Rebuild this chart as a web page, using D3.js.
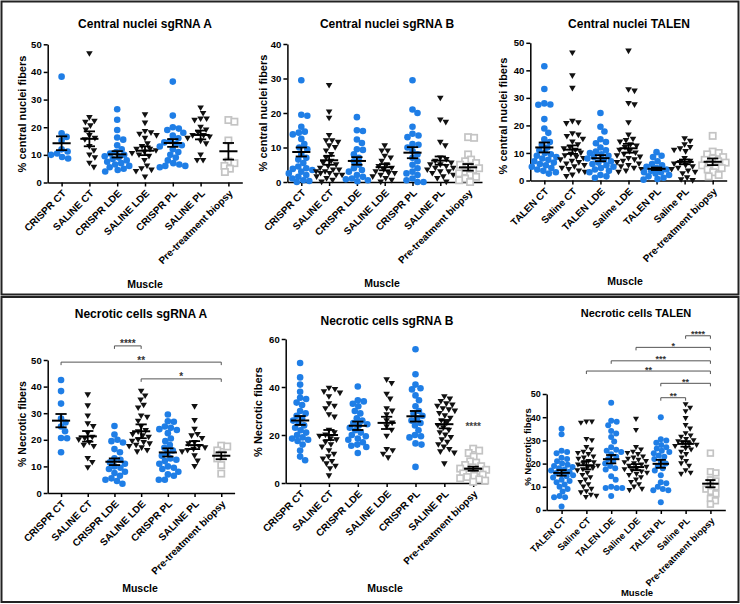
<!DOCTYPE html>
<html><head><meta charset="utf-8">
<script src="https://cdn.jsdelivr.net/npm/d3@7"></script>
<style>body{margin:0;background:#fff} svg text{font-family:Arial,"Liberation Sans",Helvetica,sans-serif;font-weight:bold}</style>
</head><body><svg id="c" width="740" height="604"></svg>
<script>
// ---------------- DATA ----------------
const catsCRISPR = ["CRISPR CT","SALINE CT","CRISPR LDE","SALINE LDE","CRISPR PL","SALINE PL","Pre-treatment biopsy"];
const catsTALEN = ["TALEN CT","Saline CT","TALEN LDE","Saline LDE","TALEN PL","Saline PL","Pre-treatment biopsy"];
const markerKinds = ["dot","tri","dot","tri","dot","tri","square"];

const ticks50 = [0,10,20,30,40,50];
const ticks40 = [0,10,20,30,40];
const ticks60 = [0,20,40,60];

// Central nuclei sgRNA A
const cnA = [
  [38.3,17.8,16.5,15.2,12.0,11.2,10.5,10.0,9.2,8.7],
  [46.6,23.5,22.2,21.8,20.5,19.0,17.0,16.0,15.5,13.0,11.5,10.0,9.0,7.0,5.5],
  [26.5,22.7,19.0,16.3,15.5,13.5,12.0,11.0,10.5,10.0,9.5,9.0,8.5,8.0,7.5,7.0,6.5,6.0,5.5,5.0,4.5,4.0],
  [24.5,21.5,18.5,18.0,17.5,17.0,16.0,14.0,13.0,12.0,12.0,11.5,11.0,10.5,10.0,9.5,8.0,6.0,5.0,4.5,4.0,2.0],
  [36.5,24.2,20.0,19.5,19.0,18.0,17.0,16.0,15.0,14.5,14.0,13.5,13.0,12.0,11.0,10.0,9.0,8.0,7.0,6.5,6.0,6.0,5.5],
  [27.0,25.0,23.0,23.0,22.5,20.0,19.0,18.0,17.0,17.0,16.5,16.0,15.0,14.0,10.0,8.0,8.0],
  [22.6,22.0,15.2,7.6,7.0,6.0,5.0,3.8]
];
const cnAMean = [14.2,15.8,10.2,11.5,14.3,17.2,11.3];
const cnASem  = [2.5,2.7,1.15,1.6,1.4,1.6,3.0];

// Central nuclei sgRNA B
const cnB = [
  [29.5,19.5,19.2,16.0,14.6,14.3,13.8,12.5,11.0,10.0,9.5,8.0,7.0,6.5,5.5,4.5,4.0,3.8,3.5,3.0,2.5,2.0,1.5,1.0,0.5,0.3,0.0],
  [28.0,20.3,18.5,13.5,12.0,12.0,11.5,10.5,10.0,9.0,8.0,7.0,6.0,5.5,5.0,4.5,4.0,3.5,3.5,3.0,3.0,2.5,2.5,2.0,2.0,1.5,1.0,0.5,0.0],
  [18.8,15.0,14.8,12.3,11.3,9.5,9.3,8.0,7.0,6.0,5.0,4.0,3.5,3.0,2.0,1.5,1.0,0.8,0.5,0.2],
  [10.5,9.0,9.0,7.5,7.0,6.0,5.0,4.5,4.0,3.5,3.0,2.5,2.5,2.0,1.5,1.0,0.5,0.0],
  [29.5,21.0,20.0,16.0,14.0,13.5,13.0,11.0,10.8,10.0,9.0,8.0,7.0,6.0,5.0,4.0,3.0,2.5,2.0,1.0,0.5,0.0,0.0],
  [24.3,18.0,17.3,11.5,10.5,7.0,6.5,6.0,5.5,5.0,5.0,4.5,4.0,4.0,3.5,3.0,3.0,2.5,2.0,1.5,1.0,0.0],
  [13.0,12.8,8.0,6.5,6.0,5.5,5.0,4.5,4.0,3.5,3.0,2.5,2.0,1.5,1.0,0.5,0.0]
];
const cnBMean = [8.7,6.3,6.1,4.3,8.5,6.2,4.25];
const cnBSem  = [1.3,1.3,1.1,0.9,1.6,1.2,0.95];

// Central nuclei TALEN
const cnT = [
  [41.5,33.2,28.0,27.6,27.5,22.3,18.9,17.3,15.0,14.0,13.0,12.0,11.0,10.0,9.5,9.0,8.5,8.0,7.5,7.0,6.5,6.0,5.5,5.0,4.5,4.0,3.5,3.0,2.5],
  [46.3,38.0,33.5,21.5,21.0,20.7,17.0,16.5,16.0,15.0,14.0,13.0,12.0,11.5,11.0,10.0,9.5,9.0,8.5,8.0,7.5,7.0,6.5,6.0,5.5,5.0,4.5,4.0,3.5,3.0,2.0,1.5],
  [24.5,19.5,17.8,15.0,14.0,13.5,12.0,11.0,10.5,10.0,9.5,9.0,8.5,8.0,7.5,7.0,6.5,6.0,5.5,5.0,4.5,4.0,3.5,3.0,2.0,1.5,1.0],
  [47.0,33.0,32.5,28.0,27.5,21.0,16.5,15.0,14.5,14.0,13.0,12.5,12.0,11.0,10.5,10.0,9.5,9.0,8.5,8.0,7.5,7.0,6.5,6.0,5.5,5.0,4.5,4.0,3.5,3.0],
  [10.3,9.0,8.5,7.0,6.0,5.5,5.0,4.5,4.0,3.5,3.0,3.0,2.5,2.0,1.5,1.0,0.5,0.3],
  [15.2,14.3,13.0,12.0,11.5,11.0,10.5,8.0,7.0,6.5,6.0,5.5,5.0,4.5,4.0,3.5,3.0,2.5,1.0,0.3,0.0],
  [16.2,10.5,10.0,9.5,8.5,8.0,7.5,7.0,6.5,6.0,5.5,5.0,4.5,4.0,3.0,2.0,1.5]
];
const cnTMean = [12.0,11.2,8.1,11.7,4.25,6.75,6.8];
const cnTSem  = [1.8,1.55,1.1,1.6,0.45,0.85,1.2];

// Necrotic cells sgRNA A
const ncA = [
  [42.5,38.3,33.6,28.0,26.5,25.0,23.2,20.7,20.6,15.3],
  [36.9,32.8,29.0,26.0,25.0,22.5,21.0,20.5,20.0,19.0,18.0,17.5,13.0,11.5,9.5],
  [25.2,22.0,20.0,19.5,19.0,16.5,15.3,13.0,12.5,11.5,11.0,10.0,9.5,9.0,8.0,7.5,6.5,5.5,5.0,4.5,3.5],
  [38.3,36.5,35.0,33.0,32.0,29.0,28.5,27.0,25.0,23.5,23.0,22.0,21.5,21.0,20.0,19.5,19.0,18.5,18.0,17.5,17.0,16.0,15.5],
  [29.5,27.0,26.8,25.0,24.5,24.0,23.7,22.5,20.5,19.5,18.0,17.0,16.0,15.0,14.0,13.0,12.5,12.0,11.0,10.0,9.5,9.0,8.0,7.0,6.5,5.0,5.0],
  [32.5,27.3,24.0,22.0,21.5,20.5,19.0,18.5,17.5,17.0,16.5,16.0,15.5,14.0,12.0,10.0],
  [17.8,17.5,16.0,14.5,13.0,10.5,7.3]
];
const ncAMean = [27.2,21.3,11.75,23.2,15.25,18.0,14.0];
const ncASem  = [2.5,2.0,1.25,2.6,1.55,1.5,1.3];
const ncASig = [
  {from:2, to:3, level:55.3, label:"****"},
  {from:0, to:6, level:49.2, label:"**"},
  {from:3, to:6, level:42.9, label:"*"}
];

// Necrotic cells sgRNA B
const ncB = [
  [50.0,44.0,41.0,38.0,35.5,35.0,33.5,32.5,30.0,29.0,28.0,27.0,26.0,25.0,24.0,23.0,22.0,21.0,20.0,19.0,18.5,18.0,17.5,16.0,13.5,11.0,9.5],
  [39.5,39.0,38.0,37.5,36.0,33.0,32.0,31.0,28.5,27.5,22.0,21.0,20.0,19.5,18.5,18.0,17.0,16.0,15.0,13.5,12.0,11.0,10.0,9.0,8.0,7.0,6.0,3.0],
  [40.2,34.5,34.0,33.0,32.0,30.0,29.0,27.0,26.0,25.0,24.5,24.0,23.0,22.0,21.0,20.0,19.5,18.5,18.0,17.0,16.0,15.5,15.0,12.5],
  [43.0,41.5,37.0,35.0,31.0,30.0,28.5,26.0,25.0,23.5,22.0,19.5,14.0,13.5,12.0,10.5],
  [55.7,45.3,41.0,39.5,39.0,36.5,34.5,32.0,30.0,29.0,28.0,27.0,26.0,25.0,24.0,22.0,20.0,19.5,19.0,16.5,16.0,6.7],
  [36.0,35.0,34.0,33.0,32.5,32.0,31.0,30.5,30.0,29.0,28.0,27.0,26.0,25.0,24.0,23.0,22.0,21.0,20.0,19.0,18.0,17.0,16.0,15.0,14.0,13.0,12.5,8.0],
  [14.3,13.5,12.5,11.0,9.0,8.5,7.5,7.0,6.5,6.0,5.5,5.0,4.5,4.0,3.5,3.0,2.5,2.0,1.5,1.0,0.5]
];
const ncBMean = [26.05,20.0,23.85,25.05,27.8,24.5,5.95];
const ncBSem  = [1.85,2.1,1.75,2.55,2.2,1.75,0.85];
const ncBStar = {group:6, level:24.5, label:"****"};

// Necrotic cells TALEN
const ncT = [
  [35.0,32.6,25.5,25.0,24.5,22.5,22.0,21.0,20.0,19.5,19.0,18.5,18.0,17.5,17.0,16.5,16.0,15.5,15.0,14.5,14.0,13.0,12.5,12.0,11.0,10.0,9.0,8.0,6.0,5.5,5.5,1.5],
  [38.0,38.0,37.5,30.5,30.0,27.0,26.0,25.0,24.5,24.0,23.0,22.5,22.0,21.0,20.5,20.0,19.5,19.0,18.5,18.0,17.5,17.0,16.0,15.0,14.0,13.0,12.0,11.0,10.0,9.0,8.0,7.5,6.5,6.0,5.5],
  [46.2,38.5,38.0,36.5,34.0,33.0,31.5,29.5,27.0,26.0,25.5,25.0,24.0,23.0,22.0,21.0,20.0,19.0,18.0,17.5,14.5,13.0,10.0,9.5,9.5,9.5,6.0],
  [39.2,34.4,27.0,26.0,25.0,24.5,24.0,23.0,22.5,22.0,21.5,21.0,20.5,20.0,19.5,19.0,18.5,18.0,17.5,17.0,16.5,16.0,15.5,15.0,14.0,13.0,12.0,11.0,10.0,9.0,8.5],
  [40.0,30.5,30.0,29.0,28.0,27.0,26.5,25.5,25.0,24.5,23.5,23.0,22.0,21.0,20.0,19.0,18.0,17.0,15.0,12.0,11.5,10.0,9.0,8.5,8.5,3.3],
  [45.5,44.0,42.5,39.5,36.5,35.0,33.0,32.0,31.5,30.5,30.0,29.5,29.0,28.5,28.0,27.5,26.5,26.0,25.0,24.0,22.5,21.0,20.0,19.0,17.0,16.0,15.5],
  [24.5,16.5,16.0,13.0,12.5,10.5,10.0,9.0,8.0,7.0,5.0,4.0,2.5]
];
const ncTMean = [16.0,19.3,21.9,18.5,19.9,28.5,11.35];
const ncTSem  = [1.2,1.8,1.8,1.3,1.7,1.2,1.55];
const ncTSig = [
  {from:5, to:6, level:75.1, label:"****"},
  {from:3, to:6, level:70.1, label:"*"},
  {from:2, to:6, level:64.3, label:"***"},
  {from:1, to:6, level:59.9, label:"**"},
  {from:4, to:6, level:54.6, label:"**"},
  {from:4, to:5, level:48.4, label:"**"}
];

// ---------------- LAYOUT ----------------
const BLUE = "#1f7ee6", GREY = "#c4c4c4";
const svg = d3.select("#c");
svg.append("rect").attr("width",740).attr("height",604).attr("fill","#fff");
svg.append("rect").attr("x",1.5).attr("y",1.5).attr("width",737).attr("height",293).attr("fill","none").attr("stroke","#222").attr("stroke-width",2);
svg.append("rect").attr("x",1.5).attr("y",297).attr("width",737).attr("height",305).attr("fill","none").attr("stroke","#222").attr("stroke-width",2);

const panels = [
  {title:"Central nuclei sgRNA A", cats:catsCRISPR, data:cnA, mean:cnAMean, sem:cnASem, ymax:50, yticks:ticks50,
   x0:47.7, x1:242.3, pad:0.5, yb:182.5, yt:44.3, tx:145, ty:28, ylab:"% central nuclei fibers", ylx:22, yly:114, mx:145, my:288,
   fsT:12, fsY:9.5, fsX:10, fsYL:11, fsM:10.5, r:3.3, spread:13},
  {title:"Central nuclei sgRNA B", cats:catsCRISPR, data:cnB, mean:cnBMean, sem:cnBSem, ymax:40, yticks:ticks40,
   x0:287.4, x1:482, pad:0.5, yb:182, yt:44, tx:387, ty:28, ylab:"% central nuclei fibers", ylx:263, yly:113, mx:382, my:287,
   fsT:12, fsY:9.5, fsX:10, fsYL:11, fsM:10.5, r:3.3, spread:13},
  {title:"Central nuclei TALEN", cats:catsTALEN, data:cnT, mean:cnTMean, sem:cnTSem, ymax:50, yticks:ticks50,
   x0:530.3, x1:726.7, pad:0.5, yb:180.5, yt:42.8, tx:629, ty:28, ylab:"% central nuclei fibers", ylx:503, yly:116, mx:625, my:285,
   fsT:12, fsY:9.5, fsX:10, fsYL:11, fsM:10.5, r:3.3, spread:13},
  {title:"Necrotic cells sgRNA A", cats:catsCRISPR, data:ncA, mean:ncAMean, sem:ncASem, ymax:50, yticks:ticks50,
   x0:47.7, x1:234.6, pad:0.5, yb:493, yt:360, tx:141, ty:318, ylab:"% Necrotic fibers", ylx:22, yly:424, mx:140, my:592,
   fsT:12, fsY:9.5, fsX:10, fsYL:10.5, fsM:10.5, r:3.3, spread:12.5, sig:ncASig, fsS:10},
  {title:"Necrotic cells sgRNA B", cats:catsCRISPR, data:ncB, mean:ncBMean, sem:ncBSem, ymax:60, yticks:ticks60,
   x0:285.7, x1:487.6, pad:0.5, yb:483, yt:339, tx:387, ty:325, ylab:"% Necrotic fibers", ylx:258, yly:412, mx:385, my:592,
   fsT:12, fsY:9.5, fsX:10, fsYL:11, fsM:10.5, r:3.3, spread:13, star:ncBStar, fsS:10},
  {title:"Necrotic cells TALEN", cats:catsTALEN, data:ncT, mean:ncTMean, sem:ncTSem, ymax:50, yticks:ticks50,
   x0:546.7, x1:725.3, pad:0.6, yb:510, yt:394, tx:636, ty:317, ylab:"% Necrotic fibers", ylx:528, yly:447, mx:637, my:596,
   fsT:11, fsY:9, fsX:9.3, fsYL:9.5, fsM:9.5, r:3.0, spread:11.5, sig:ncTSig, fsS:9}
];

function swarm(vals, y, cx, r, maxOff) {
  const pts = vals.map(v => ({v, y: y(v)})).sort((a, b) => a.y - b.y);
  const placed = [];
  const d = 2 * r * 0.9;
  for (const p of pts) {
    let chosen = null;
    const nSteps = Math.ceil(maxOff / 0.5);
    for (let k = 0; k <= 2 * nSteps; k++) {
      const off = (k % 2 === 1 ? 1 : -1) * Math.ceil(k / 2) * 0.5;
      const xx = cx + off;
      if (placed.every(q => (q.x - xx) ** 2 + (q.y - p.y) ** 2 >= d * d)) { chosen = xx; break; }
    }
    if (chosen === null) {
      let best = cx, bestD = -1;
      for (let off = -maxOff; off <= maxOff; off += 0.5) {
        const xx = cx + off;
        const md = Math.min(...placed.map(q => Math.hypot(q.x - xx, q.y - p.y)));
        if (md > bestD) { bestD = md; best = xx; }
      }
      chosen = best;
    }
    p.x = chosen; placed.push(p);
  }
  return placed;
}

function drawPanel(P) {
  const g = svg.append("g");
  const x = d3.scalePoint().domain(P.cats).range([P.x0, P.x1]).padding(P.pad);
  const y = d3.scaleLinear().domain([0, P.ymax]).range([P.yb, P.yt]);

  const ya = g.append("g").attr("transform", `translate(${P.x0},0)`)
    .call(d3.axisLeft(y).tickValues(P.yticks).tickSize(4).tickSizeOuter(0).tickPadding(2));
  ya.select(".domain").attr("stroke", "#000").attr("stroke-width", 1.5);
  ya.selectAll(".tick line").attr("stroke", "#000").attr("stroke-width", 1.5);
  ya.selectAll(".tick text").attr("font-size", P.fsY).attr("fill", "#000")
    .style("font-family", "Arial, 'Liberation Sans', sans-serif").style("font-weight", "bold");

  const xa = g.append("g").attr("transform", `translate(0,${P.yb})`)
    .call(d3.axisBottom(x).tickSize(4).tickSizeOuter(0));
  xa.select(".domain").attr("stroke", "#000").attr("stroke-width", 1.5);
  xa.selectAll(".tick line").attr("stroke", "#000").attr("stroke-width", 1.5);
  xa.selectAll(".tick text").attr("font-size", P.fsX).attr("fill", "#000")
    .style("font-family", "Arial, 'Liberation Sans', sans-serif").style("font-weight", "bold")
    .attr("x", 0).attr("y", 0).attr("dy", "0.35em").attr("text-anchor", "end")
    .attr("transform", "translate(2,9) rotate(-45)");

  // points
  P.data.forEach((vals, i) => {
    const cx = x(P.cats[i]);
    const pts = swarm(vals, y, cx, P.r, P.spread);
    const kind = markerKinds[i];
    const gg = g.append("g");
    if (kind === "dot") {
      gg.selectAll("circle").data(pts).join("circle")
        .attr("cx", d => d.x).attr("cy", d => d.y).attr("r", P.r).attr("fill", BLUE);
    } else if (kind === "tri") {
      const s = P.r * 1.0;
      gg.selectAll("path").data(pts).join("path")
        .attr("d", d => `M${d.x - s},${d.y - s * 0.75}L${d.x + s},${d.y - s * 0.75}L${d.x},${d.y + s * 0.95}Z`)
        .attr("fill", "#111");
    } else {
      const s = P.r * 0.95;
      gg.selectAll("rect").data(pts).join("rect")
        .attr("x", d => d.x - s).attr("y", d => d.y - s).attr("width", 2 * s).attr("height", 2 * s)
        .attr("fill", "#fff").attr("stroke", GREY).attr("stroke-width", 1.7);
    }
    // mean +- SEM
    const m = P.mean[i], e = P.sem[i];
    const mw = P.r * 5.5, cw = P.r * 3.4;
    const eg = g.append("g").attr("stroke", "#000").attr("stroke-width", 1.8);
    eg.append("line").attr("x1", cx).attr("x2", cx).attr("y1", y(m - e)).attr("y2", y(m + e));
    eg.append("line").attr("x1", cx - mw / 2).attr("x2", cx + mw / 2).attr("y1", y(m)).attr("y2", y(m)).attr("stroke-width", 2);
    eg.append("line").attr("x1", cx - cw / 2).attr("x2", cx + cw / 2).attr("y1", y(m + e)).attr("y2", y(m + e));
    eg.append("line").attr("x1", cx - cw / 2).attr("x2", cx + cw / 2).attr("y1", y(m - e)).attr("y2", y(m - e));
  });

  // significance brackets
  if (P.sig) {
    P.sig.forEach(s => {
      const xa1 = x(P.cats[s.from]), xb1 = x(P.cats[s.to]), yy = y(s.level);
      g.append("path").attr("d", `M${xa1},${yy + 3}V${yy}H${xb1}V${yy + 3}`)
        .attr("fill", "none").attr("stroke", "#555").attr("stroke-width", 1);
      g.append("text").attr("x", (xa1 + xb1) / 2).attr("y", yy + 1.5).attr("text-anchor", "middle")
        .attr("font-size", P.fsS).attr("fill", "#333").text(s.label);
    });
  }
  if (P.star) {
    g.append("text").attr("x", x(P.cats[P.star.group])).attr("y", y(P.star.level) + 6)
      .attr("text-anchor", "middle").attr("font-size", P.fsS).attr("fill", "#444").text(P.star.label);
  }

  // titles
  g.append("text").attr("x", P.tx).attr("y", P.ty).attr("text-anchor", "middle")
    .attr("font-size", P.fsT).attr("fill", "#000").text(P.title);
  g.append("text").attr("transform", `translate(${P.ylx},${P.yly}) rotate(-90)`).attr("dy", "0.35em")
    .attr("text-anchor", "middle").attr("font-size", P.fsYL).attr("fill", "#000").text(P.ylab);
  g.append("text").attr("x", P.mx).attr("y", P.my).attr("text-anchor", "middle")
    .attr("font-size", P.fsM).attr("fill", "#000").text("Muscle");
}

panels.forEach(drawPanel);
</script></body></html>
